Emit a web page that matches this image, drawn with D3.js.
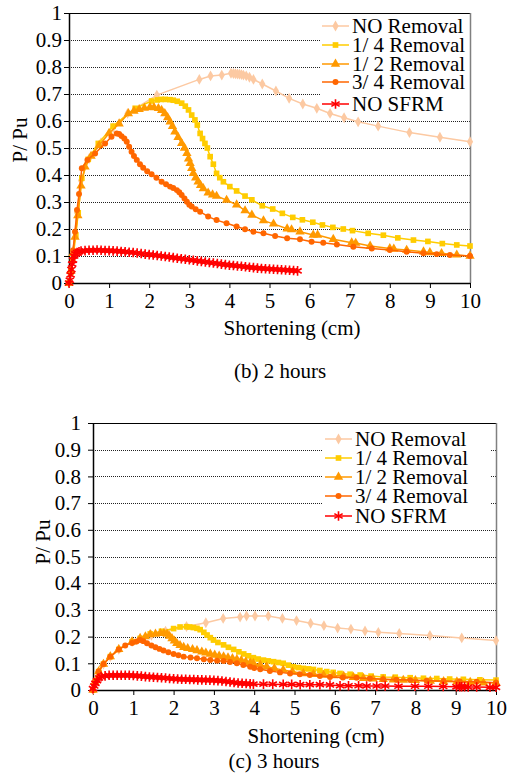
<!DOCTYPE html>
<html>
<head>
<meta charset="utf-8">
<script src="https://cdn.jsdelivr.net/npm/d3@7"></script>
<style>
body { margin: 0; background: #fff; }
</style>
</head>
<body>
<div id="chart"></div>
<script>
//tick values and series names
var xTicks = [0, 1, 2, 3, 4, 5, 6, 7, 8, 9, 10];
var yTicks = [0, 0.1, 0.2, 0.3, 0.4, 0.5, 0.6, 0.7, 0.8, 0.9, 1];
var seriesNames = ["NO Removal", "1/ 4 Removal", "1/ 2 Removal", "3/ 4 Removal", "NO SFRM"];

//(b) 2 hours
var h2NoRemoval = [[0,0],[0.05,0.05],[0.1,0.12],[0.2,0.26],[0.3,0.38],[0.5,0.46],[0.8,0.52],[1.1,0.575],[1.46,0.628],[2.19,0.696],[3.25,0.754],[3.53,0.767],[3.81,0.77],[4.04,0.777],[4.1,0.776],[4.15,0.775],[4.2,0.774],[4.25,0.773],[4.3,0.772],[4.35,0.77],[4.42,0.767],[4.5,0.762],[4.6,0.754],[4.82,0.737],[5.16,0.711],[5.49,0.684],[5.83,0.663],[6.18,0.647],[6.51,0.628],[6.86,0.612],[7.21,0.597],[7.71,0.581],[8.49,0.557],[9.25,0.54],[10,0.523]];
var h2Quarter = [[0,0],[0.05,0.04],[0.09,0.085],[0.12,0.116],[0.17,0.178],[0.23,0.26],[0.32,0.388],[0.48,0.458],[0.73,0.517],[1.1,0.581],[1.65,0.647],[2.06,0.674],[2.2,0.678],[2.3,0.68],[2.4,0.68],[2.52,0.679],[2.6,0.677],[2.7,0.673],[2.81,0.666],[2.9,0.655],[2.98,0.641],[3.06,0.622],[3.14,0.604],[3.2,0.585],[3.27,0.554],[3.33,0.535],[3.39,0.517],[3.45,0.5],[3.52,0.468],[3.6,0.44],[3.68,0.406],[3.76,0.39],[3.85,0.375],[4.01,0.357],[4.18,0.341],[4.39,0.322],[4.56,0.308],[4.82,0.286],[5.08,0.274],[5.32,0.258],[5.58,0.243],[5.82,0.234],[6.08,0.225],[6.32,0.215],[6.58,0.206],[6.84,0.2],[7.07,0.194],[7.46,0.184],[7.84,0.177],[8.2,0.167],[8.59,0.159],[8.95,0.154],[9.31,0.146],[9.67,0.141],[10,0.137]];
var h2Half = [[0,0],[0.05,0.045],[0.1,0.11],[0.15,0.17],[0.22,0.25],[0.3,0.36],[0.4,0.43],[0.55,0.47],[0.75,0.51],[1.0,0.555],[1.25,0.59],[1.48,0.628],[1.62,0.637],[1.75,0.643],[1.88,0.648],[2.02,0.651],[2.12,0.65],[2.23,0.647],[2.31,0.64],[2.39,0.628],[2.46,0.613],[2.52,0.597],[2.58,0.58],[2.64,0.56],[2.72,0.54],[2.81,0.517],[2.88,0.5],[2.94,0.48],[2.98,0.46],[3.02,0.443],[3.06,0.425],[3.1,0.406],[3.16,0.39],[3.22,0.375],[3.28,0.362],[3.35,0.35],[3.47,0.334],[3.58,0.327],[3.68,0.322],[3.93,0.307],[4.18,0.29],[4.39,0.268],[4.56,0.252],[4.85,0.231],[5.1,0.219],[5.44,0.201],[5.55,0.198],[5.76,0.19],[6.09,0.178],[6.2,0.178],[6.59,0.162],[7.05,0.149],[7.15,0.148],[7.51,0.137],[8.0,0.128],[8.1,0.126],[8.42,0.122],[8.84,0.116],[9.0,0.113],[9.29,0.11],[9.67,0.104],[10,0.1]];
var h2ThreeQ = [[0,0],[0.05,0.05],[0.1,0.12],[0.15,0.19],[0.2,0.27],[0.25,0.33],[0.32,0.425],[0.46,0.456],[0.65,0.48],[0.9,0.517],[1.06,0.542],[1.19,0.554],[1.25,0.552],[1.31,0.544],[1.38,0.535],[1.44,0.523],[1.5,0.505],[1.56,0.486],[1.62,0.47],[1.69,0.456],[1.77,0.44],[1.85,0.427],[1.95,0.414],[2.06,0.403],[2.18,0.39],[2.31,0.375],[2.42,0.366],[2.52,0.357],[2.6,0.352],[2.69,0.344],[2.75,0.336],[2.81,0.326],[2.88,0.313],[2.94,0.301],[3.0,0.29],[3.06,0.283],[3.16,0.273],[3.27,0.264],[3.47,0.246],[3.68,0.233],[3.93,0.221],[4.18,0.209],[4.39,0.199],[4.6,0.19],[4.85,0.184],[5.14,0.174],[5.44,0.166],[5.76,0.162],[6.05,0.153],[6.34,0.149],[6.68,0.143],[7.09,0.134],[7.55,0.128],[8.0,0.122],[8.42,0.116],[8.84,0.11],[9.17,0.107],[9.5,0.104],[10,0.1]];
var h2NoSFRM = [[0,0],[0.02,0.01],[0.04,0.03],[0.06,0.05],[0.08,0.07],[0.1,0.085],[0.13,0.1],[0.16,0.108],[0.2,0.113],[0.25,0.116],[0.3,0.118],[0.4,0.12],[0.5,0.121],[0.6,0.121],[0.7,0.122],[0.8,0.121],[0.9,0.12],[1.0,0.12],[1.1,0.119],[1.2,0.118],[1.3,0.117],[1.4,0.116],[1.5,0.114],[1.6,0.113],[1.7,0.111],[1.8,0.109],[1.9,0.107],[2.0,0.105],[2.1,0.104],[2.2,0.102],[2.3,0.1],[2.4,0.098],[2.5,0.096],[2.6,0.094],[2.7,0.092],[2.8,0.09],[2.9,0.088],[3.0,0.086],[3.1,0.084],[3.2,0.082],[3.3,0.08],[3.4,0.078],[3.5,0.076],[3.6,0.074],[3.7,0.072],[3.8,0.07],[3.9,0.068],[4.0,0.066],[4.1,0.065],[4.2,0.063],[4.3,0.062],[4.4,0.06],[4.5,0.058],[4.6,0.057],[4.7,0.055],[4.8,0.054],[4.9,0.053],[5.0,0.052],[5.1,0.051],[5.2,0.05],[5.3,0.049],[5.4,0.048],[5.5,0.047],[5.6,0.046],[5.7,0.045]];

//(c) 3 hours
var h3NoRemoval = [[0,0],[0.14,0.069],[0.26,0.097],[0.43,0.125],[0.64,0.152],[0.97,0.181],[1.17,0.194],[1.45,0.205],[1.8,0.22],[2.32,0.238],[2.8,0.252],[3.23,0.268],[3.65,0.273],[3.81,0.277],[4.02,0.277],[4.35,0.277],[4.7,0.268],[5.05,0.26],[5.4,0.25],[5.73,0.241],[6.07,0.232],[6.4,0.228],[6.75,0.221],[7.08,0.216],[7.6,0.212],[8.36,0.204],[9.15,0.195],[10,0.185]];
var h3Quarter = [[0,0],[0.05,0.03],[0.14,0.069],[0.26,0.097],[0.43,0.125],[0.64,0.152],[0.97,0.181],[1.17,0.193],[1.42,0.21],[1.7,0.22],[2.0,0.23],[2.16,0.236],[2.32,0.237],[2.4,0.236],[2.49,0.234],[2.58,0.231],[2.66,0.226],[2.75,0.216],[2.83,0.206],[2.91,0.196],[2.99,0.187],[3.1,0.178],[3.24,0.169],[3.36,0.16],[3.49,0.152],[3.62,0.143],[3.74,0.135],[3.86,0.128],[3.98,0.121],[4.1,0.116],[4.23,0.112],[4.35,0.109],[4.48,0.106],[4.6,0.103],[4.72,0.1],[4.85,0.093],[4.97,0.087],[5.1,0.084],[5.22,0.081],[5.35,0.079],[5.47,0.077],[5.63,0.073],[5.8,0.069],[5.96,0.066],[6.13,0.062],[6.38,0.059],[6.63,0.056],[6.9,0.052],[7.2,0.049],[7.5,0.048],[7.87,0.046],[8.2,0.044],[8.53,0.043],[8.85,0.041],[9.19,0.04],[9.6,0.038],[10,0.037]];
var h3Half = [[0,0],[0.05,0.03],[0.14,0.069],[0.26,0.097],[0.43,0.125],[0.64,0.152],[0.97,0.181],[1.17,0.193],[1.3,0.2],[1.42,0.208],[1.55,0.21],[1.67,0.212],[1.76,0.212],[1.84,0.21],[1.9,0.202],[1.96,0.193],[2.02,0.184],[2.08,0.175],[2.16,0.167],[2.25,0.16],[2.35,0.156],[2.47,0.152],[2.58,0.148],[2.7,0.143],[2.8,0.139],[2.91,0.135],[3.02,0.131],[3.13,0.128],[3.24,0.125],[3.35,0.121],[3.46,0.118],[3.57,0.115],[3.68,0.111],[3.79,0.106],[3.9,0.102],[3.98,0.1],[4.15,0.094],[4.31,0.087],[4.5,0.081],[4.72,0.075],[4.95,0.068],[5.22,0.062],[5.47,0.059],[5.72,0.056],[5.97,0.054],[6.22,0.052],[6.46,0.048],[6.71,0.044],[6.95,0.042],[7.2,0.04],[7.45,0.038],[7.7,0.037],[8.0,0.036],[8.37,0.034],[8.7,0.032],[9.03,0.031],[9.36,0.029],[9.69,0.027],[10,0.027]];
var h3ThreeQ = [[0,0],[0.05,0.03],[0.14,0.069],[0.26,0.097],[0.43,0.125],[0.64,0.152],[0.8,0.167],[0.97,0.176],[1.08,0.182],[1.17,0.187],[1.25,0.183],[1.34,0.175],[1.45,0.167],[1.55,0.16],[1.65,0.154],[1.75,0.148],[1.87,0.141],[2.0,0.135],[2.12,0.13],[2.25,0.125],[2.42,0.122],[2.58,0.119],[2.75,0.115],[2.91,0.112],[3.08,0.11],[3.24,0.109],[3.4,0.105],[3.57,0.1],[3.73,0.094],[3.9,0.087],[4.0,0.082],[4.15,0.078],[4.39,0.071],[4.64,0.066],[4.89,0.062],[5.13,0.059],[5.38,0.056],[5.63,0.052],[5.88,0.049],[6.2,0.047],[6.54,0.046],[6.87,0.043],[7.2,0.04],[7.53,0.038],[7.87,0.037],[8.28,0.035],[8.7,0.034],[9.1,0.032],[9.52,0.031],[10,0.027]];
var h3NoSFRM = [[0,0.005],[0.03,0.015],[0.06,0.025],[0.1,0.035],[0.15,0.045],[0.2,0.05],[0.3,0.053],[0.4,0.055],[0.5,0.055],[0.6,0.055],[0.7,0.055],[0.8,0.055],[0.9,0.055],[1.0,0.054],[1.1,0.053],[1.2,0.052],[1.3,0.05],[1.4,0.049],[1.5,0.048],[1.6,0.047],[1.7,0.046],[1.8,0.045],[1.9,0.043],[2.0,0.042],[2.1,0.041],[2.2,0.04],[2.3,0.04],[2.4,0.039],[2.5,0.039],[2.6,0.038],[2.7,0.038],[2.8,0.037],[2.9,0.037],[3.0,0.036],[3.1,0.035],[3.2,0.034],[3.3,0.032],[3.4,0.03],[3.5,0.028],[3.6,0.026],[3.7,0.025],[3.8,0.024],[3.9,0.023],[3.98,0.022],[4.23,0.022],[4.46,0.022],[4.72,0.021],[4.93,0.021],[5.14,0.02],[5.38,0.02],[5.63,0.02],[5.88,0.019],[6.13,0.016],[6.34,0.016],[6.59,0.016],[6.79,0.015],[7.04,0.015],[7.25,0.015],[7.58,0.014],[7.99,0.014],[8.32,0.014],[8.69,0.013],[9.02,0.012],[9.1,0.012],[9.15,0.012],[9.22,0.012],[9.31,0.011],[9.52,0.011],[9.85,0.01],[10,0.01]];

//colors and marker shapes per series
var colors = ["#fcc9a2", "#ffcc00", "#ff9900", "#ff6600", "#ff0000"];
var shapes = [d3.symbolDiamond, d3.symbolSquare, d3.symbolTriangle, d3.symbolCircle, d3.symbolAsterisk];
var sizes = [34, 32, 38, 28, 64];

var width = 508, height = 778;
var font = "Liberation Serif", fontSize = 21;

var svg = d3.select("#chart")
	.append("svg")
	.attr("width", width)
	.attr("height", height)
	.attr("font-family", font);

var panels = [
	{ series: [h2NoRemoval, h2Quarter, h2Half, h2ThreeQ, h2NoSFRM], left: 69, right: 470, top: 13, bottom: 283,
	  labelGap: 6, xLabelY: 335, xLabelX: 292, caption: "(b) 2 hours", captionX: 280, captionY: 378,
	  yTitleX: 27, yTitleY: 140, legendX: 320, legendW: 150, legendH: 102, legendRows: [26, 45, 64, 82, 104] },
	{ series: [h3NoRemoval, h3Quarter, h3Half, h3ThreeQ, h3NoSFRM], left: 93, right: 496, top: 423, bottom: 690,
	  labelGap: 11, xLabelY: 743, xLabelX: 316, caption: "(c) 3 hours", captionX: 274, captionY: 768,
	  yTitleX: 50, yTitleY: 542, legendX: 323, legendW: 167, legendH: 104, legendRows: [439, 458, 477, 496, 516] }
];

panels.forEach(function(p){

	var xscale = d3.scaleLinear().domain([0, 10]).range([p.left, p.right]);
	var yscale = d3.scaleLinear().domain([0, 1]).range([p.bottom, p.top]);

	var g = svg.append("g");

	//dotted gridlines
	g.selectAll(".grid")
		.data(yTicks.slice(1, -1))
		.enter()
		.append("line")
			.attr("x1", p.left)
			.attr("x2", p.right)
			.attr("y1", function(d){ return Math.round(yscale(d)) + 0.5; })
			.attr("y2", function(d){ return Math.round(yscale(d)) + 0.5; })
			.attr("stroke", "#222")
			.attr("stroke-width", 1)
			.attr("stroke-dasharray", "1,1");

	//legend background hides the grid
	g.append("rect")
		.attr("x", p.legendX)
		.attr("y", p.top + 1)
		.attr("width", p.legendW)
		.attr("height", p.legendH)
		.attr("fill", "#fff");

	//frame: top black, right grey
	g.append("line")
		.attr("x1", p.left).attr("x2", p.right)
		.attr("y1", p.top + 0.5).attr("y2", p.top + 0.5)
		.attr("stroke", "#000");
	g.append("line")
		.attr("x1", p.right + 0.5).attr("x2", p.right + 0.5)
		.attr("y1", p.top).attr("y2", p.bottom)
		.attr("stroke", "#808080")
		.attr("stroke-width", 1.5);

	var xAxis = d3.axisBottom(xscale).tickValues(xTicks).tickSize(5).tickPadding(5).tickSizeOuter(0);
	var yAxis = d3.axisLeft(yscale).tickValues(yTicks).tickSize(5).tickSizeOuter(0)
		.tickPadding(p.labelGap - 4)
		.tickFormat(function(d){ return d === 0 || d === 1 ? String(d) : d.toFixed(1); });

	var xg = g.append("g")
		.attr("transform", "translate(0," + p.bottom + ")")
		.call(xAxis);
	var yg = g.append("g")
		.attr("transform", "translate(" + p.left + ",0)")
		.call(yAxis);

	[xg, yg].forEach(function(a){
		a.attr("font-family", font).attr("font-size", fontSize);
		a.select(".domain").attr("stroke", "#000").attr("stroke-width", 1.5);
		a.selectAll(".tick line").attr("stroke", "#000");
		a.selectAll("text")
			.attr("font-family", font)
			.attr("font-size", fontSize)
			.attr("fill", "#000");
	});

	//series
	var line = d3.line()
		.x(function(d){ return xscale(d[0]); })
		.y(function(d){ return yscale(d[1]); });

	p.series.forEach(function(s, i){
		g.append("path")
			.datum(s)
			.attr("d", line)
			.attr("fill", "none")
			.attr("stroke", colors[i])
			.attr("stroke-width", 1.5);

		var sym = d3.symbol().type(shapes[i]).size(sizes[i]);
		g.selectAll(".m" + i)
			.data(s)
			.enter()
			.append("path")
				.attr("class", "m" + i)
				.attr("d", sym)
				.attr("transform", function(d){ return "translate(" + xscale(d[0]) + "," + yscale(d[1]) + ")"; })
				.attr("fill", i === 4 ? "none" : colors[i])
				.attr("stroke", i === 4 ? colors[i] : "none")
				.attr("stroke-width", 1.6);
	});

	//legend
	seriesNames.forEach(function(name, i){
		var ly = p.legendRows[i];
		var x0 = p.legendX + 2, x1 = p.legendX + 29;
		g.append("line")
			.attr("x1", x0).attr("x2", x1)
			.attr("y1", ly).attr("y2", ly)
			.attr("stroke", colors[i])
			.attr("stroke-width", 1.5);
		g.append("path")
			.attr("d", d3.symbol().type(shapes[i]).size(sizes[i]))
			.attr("transform", "translate(" + ((x0 + x1) / 2) + "," + ly + ")")
			.attr("fill", i === 4 ? "none" : colors[i])
			.attr("stroke", i === 4 ? colors[i] : "none")
			.attr("stroke-width", 1.6);
		g.append("text")
			.attr("x", x1 + 3)
			.attr("y", ly + 7)
			.attr("font-family", font)
			.attr("font-size", fontSize)
			.text(name);
	});

	//axis titles and caption
	g.append("text")
		.attr("transform", "translate(" + p.yTitleX + "," + p.yTitleY + ") rotate(-90)")
		.attr("text-anchor", "middle")
		.attr("font-family", font)
		.attr("font-size", fontSize)
		.text("P/ Pu");
	g.append("text")
		.attr("x", p.xLabelX)
		.attr("y", p.xLabelY)
		.attr("text-anchor", "middle")
		.attr("font-family", font)
		.attr("font-size", fontSize)
		.text("Shortening (cm)");
	g.append("text")
		.attr("x", p.captionX)
		.attr("y", p.captionY)
		.attr("text-anchor", "middle")
		.attr("font-family", font)
		.attr("font-size", fontSize)
		.text(p.caption);
});
</script>
</body>
</html>
